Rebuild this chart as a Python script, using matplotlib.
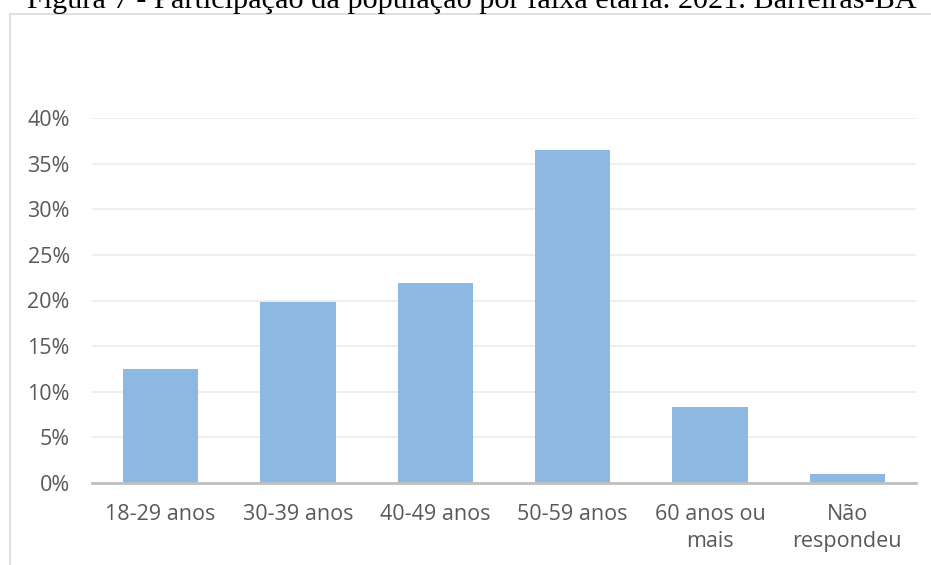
import matplotlib.pyplot as plt
from matplotlib.patches import Rectangle
from matplotlib.ticker import FuncFormatter

categorias = ["18-29 anos", "30-39 anos", "40-49 anos", "50-59 anos", "60 anos ou\nmais", "Não\nrespondeu"]
participacao = [12.5, 19.8, 21.9, 36.5, 8.3, 1.0]
yticks = [0, 5, 10, 15, 20, 25, 30, 35, 40]

fig = plt.figure(figsize=(9.31, 5.65), dpi=100)

# moldura do grafico (cortada a direita e embaixo, como no original)
fig.patches.append(Rectangle((10 / 931, -0.1), 1.0, (565 - 14) / 565 + 0.1,
                             transform=fig.transFigure, fill=False,
                             edgecolor="#D9D9D9", linewidth=1.2))

fig.text(472 / 931, 1.0 - 1 / 565, "Figura 7 - Participação da população por faixa etária. 2021. Barreiras-BA",
         ha="center", va="center", family="Liberation Serif", fontsize=21.8, color="black")

ax = fig.add_axes([92 / 931, 1 - 483 / 565, (916 - 92) / 931, (483 - 118) / 565])
x = range(len(categorias))
ax.bar(x, participacao, width=0.55, color="#8DB8E2", zorder=3)

ax.set_xlim(-0.5, len(categorias) - 0.5)
ax.set_ylim(0, 40)
ax.set_yticks(yticks)
ax.yaxis.set_major_formatter(FuncFormatter(lambda v, p: f"{int(v)}%"))
ax.set_xticks(list(x))
ax.set_xticklabels(categorias, linespacing=1.4)
ax.grid(axis="y", color="#EBEBEB", linewidth=1.2, zorder=0)
for s in ["top", "right", "left"]:
    ax.spines[s].set_visible(False)
ax.spines["bottom"].set_color("#BFBFBF")
ax.spines["bottom"].set_linewidth(2)
ax.spines["bottom"].set_zorder(4)
ax.tick_params(axis="both", length=0, labelcolor="#595959", labelsize=15.5)
ax.tick_params(axis="x", pad=15)
ax.tick_params(axis="y", pad=16)
for lab in ax.get_xticklabels() + ax.get_yticklabels():
    lab.set_family("Open Sans")

fig.savefig("out.png", dpi=100)
